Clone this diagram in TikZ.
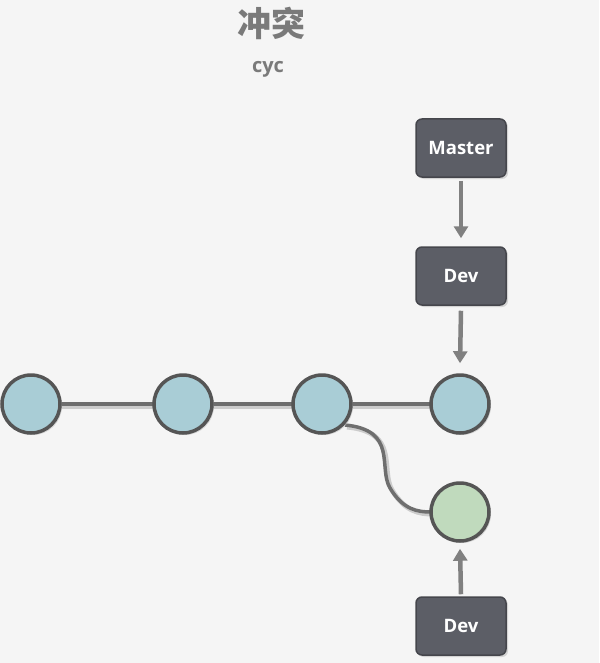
\documentclass[tikz,border=0pt]{standalone}
\usepackage{fontspec}
\setmainfont{Open Sans}
\newfontfamily\cjk{Noto Sans CJK SC}
\usetikzlibrary{arrows.meta,shadows}
\definecolor{bg}{HTML}{F5F5F5}
\definecolor{ring}{HTML}{555555}
\definecolor{bluefill}{HTML}{A9CDD6}
\definecolor{greenfill}{HTML}{C0DABD}
\definecolor{boxfill}{HTML}{5C5E66}
\definecolor{boxline}{HTML}{45464C}
\definecolor{linkcol}{HTML}{6E6E6E}
\definecolor{arrowcol}{HTML}{808080}
\definecolor{titlecol}{HTML}{7A7A7A}
\tikzset{
  commit/.style={circle, minimum size=58pt, inner sep=0pt, line width=3.5pt, draw=ring,
    drop shadow={shadow xshift=2pt, shadow yshift=-2pt, fill=black!25, opacity=0.6}},
  bluecommit/.style={commit, fill=bluefill},
  greencommit/.style={commit, fill=greenfill},
  branch/.style={rectangle, rounded corners=6pt, minimum width=90pt, minimum height=58pt,
    fill=boxfill, draw=boxline, line width=1.5pt, text=white, font=\bfseries\fontsize{18.5pt}{20pt}\selectfont,
    drop shadow={shadow xshift=2pt, shadow yshift=-2pt, fill=black!25, opacity=0.6}},
  link/.style={line width=3.5pt, draw=linkcol},
  linkshadow/.style={line width=5pt, draw=black!20},
  pointer/.style={line width=4.5pt, draw=arrowcol, -{Triangle[length=12pt,width=14pt]}},
}
\begin{document}
\begin{tikzpicture}[x=1pt,y=-1pt]
\useasboundingbox[fill=bg] (0,0) rectangle (599,663);
\node[font=\cjk\bfseries\fontsize{34pt}{36pt}\selectfont, text=titlecol] (title) at (271,23) {冲突};
\node[font=\bfseries\fontsize{20pt}{22pt}\selectfont, text=titlecol] (sub) at (268,69) {cyc};
% links
\coordinate (l1) at (31,404);
\coordinate (l4) at (460,404);
\coordinate (s1) at (33,406);
\coordinate (s4) at (462,406);
\coordinate (b0) at (345,425);
\coordinate (b1) at (390,488);
\coordinate (b2) at (431,512);
\coordinate (sb0) at (347,427);
\coordinate (sb1) at (392,490);
\coordinate (sb2) at (433,514);
\draw[linkshadow] (s1) -- (s4);
\draw[link] (l1) -- (l4);
\draw[linkshadow] (sb0) .. controls (400,432) and (380,470) .. (sb1) .. controls (405,512) and (420,514) .. (sb2);
\draw[link] (b0) .. controls (398,430) and (378,468) .. (b1) .. controls (403,510) and (418,512) .. (b2);
\node[bluecommit] (c1) at (31,404) {};
\node[bluecommit] (c2) at (183,404) {};
\node[bluecommit] (c3) at (322,404) {};
\node[bluecommit] (c4) at (460,404) {};
\node[greencommit] (c5) at (460,512) {};
\node[branch] (master) at (461,148) {Master};
\node[branch] (dev) at (461,276) {Dev};
\node[branch] (dev2) at (461,626) {Dev};
\draw[pointer] ([yshift=-3pt]master.south) -- ([yshift=8pt]dev.north);
\draw[pointer] ([yshift=-5pt]dev.south) -- ([yshift=10pt]c4.north);
\draw[pointer] ([yshift=2pt]dev2.north) -- ([yshift=-6pt]c5.south);
\end{tikzpicture}
\end{document}
